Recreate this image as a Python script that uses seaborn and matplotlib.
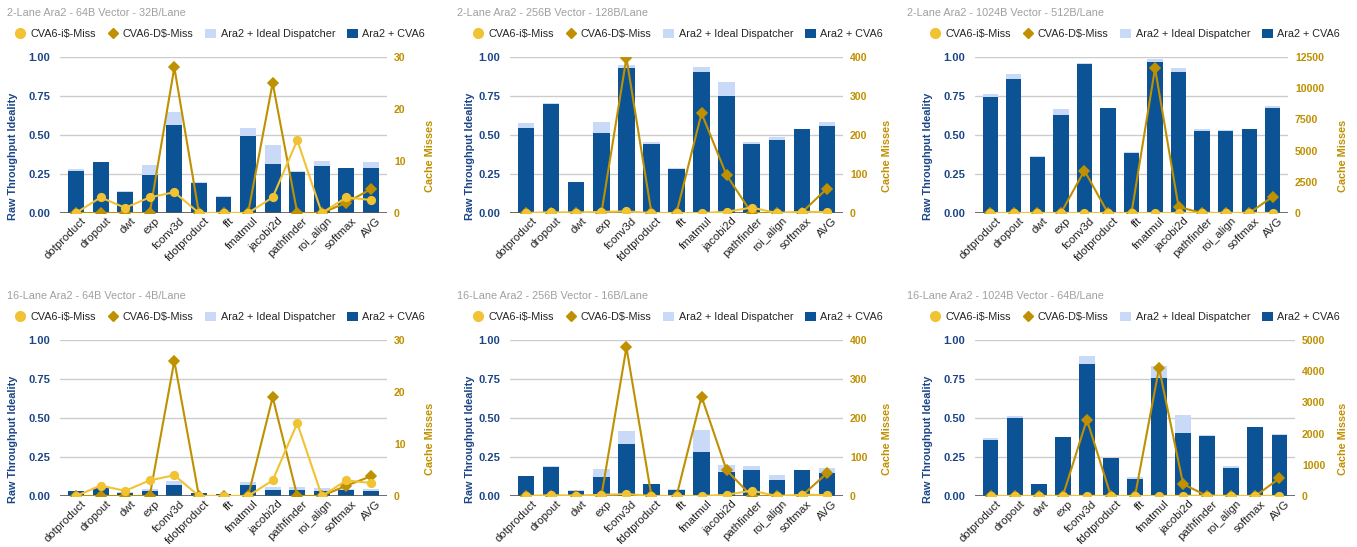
import numpy as np
import matplotlib
matplotlib.use("Agg")
import matplotlib.pyplot as plt
from matplotlib.lines import Line2D
from matplotlib.patches import Patch
from matplotlib.transforms import ScaledTranslation
import seaborn as sns

# benchmark names (x axis)
kernels = ['dotproduct', 'dropout', 'dwt', 'exp', 'fconv3d', 'fdotproduct', 'fft',
           'fmatmul', 'jacobi2d', 'pathfinder', 'roi_align', 'softmax', 'AVG']

titles = ['2-Lane Ara2 - 64B Vector - 32B/Lane',
          '2-Lane Ara2 - 256B Vector - 128B/Lane',
          '2-Lane Ara2 - 1024B Vector - 512B/Lane',
          '16-Lane Ara2 - 64B Vector - 4B/Lane',
          '16-Lane Ara2 - 256B Vector - 16B/Lane',
          '16-Lane Ara2 - 1024B Vector - 64B/Lane']

# Ara2 + Ideal Dispatcher (light bars)
ideal_2l_64 = [0.285, 0.33, 0.14, 0.305, 0.645, 0.20, 0.11, 0.545, 0.435, 0.27, 0.335, 0.29, 0.325]
ideal_2l_256 = [0.58, 0.705, 0.20, 0.585, 0.95, 0.455, 0.29, 0.935, 0.84, 0.455, 0.49, 0.54, 0.585]
ideal_2l_1024 = [0.765, 0.89, 0.365, 0.665, 0.96, 0.675, 0.39, 0.985, 0.93, 0.54, 0.53, 0.54, 0.685]
ideal_16l_64 = [0.035, 0.055, 0.025, 0.042, 0.095, 0.022, 0.015, 0.09, 0.055, 0.055, 0.05, 0.045, 0.048]
ideal_16l_256 = [0.13, 0.19, 0.04, 0.17, 0.415, 0.08, 0.045, 0.425, 0.20, 0.195, 0.135, 0.165, 0.18]
ideal_16l_1024 = [0.375, 0.51, 0.075, 0.38, 0.90, 0.245, 0.12, 0.835, 0.52, 0.39, 0.195, 0.445, 0.395]

# Ara2 + CVA6 (dark bars)
cva6_2l_64 = [0.27, 0.325, 0.135, 0.245, 0.565, 0.19, 0.10, 0.495, 0.315, 0.26, 0.30, 0.29, 0.29]
cva6_2l_256 = [0.545, 0.70, 0.20, 0.51, 0.93, 0.445, 0.28, 0.905, 0.75, 0.445, 0.47, 0.54, 0.56]
cva6_2l_1024 = [0.745, 0.86, 0.36, 0.63, 0.955, 0.67, 0.385, 0.965, 0.905, 0.525, 0.525, 0.54, 0.675]
cva6_16l_64 = [0.035, 0.05, 0.022, 0.032, 0.07, 0.022, 0.015, 0.07, 0.04, 0.04, 0.03, 0.04, 0.035]
cva6_16l_256 = [0.13, 0.185, 0.035, 0.125, 0.335, 0.075, 0.04, 0.285, 0.155, 0.165, 0.10, 0.165, 0.15]
cva6_16l_1024 = [0.36, 0.50, 0.075, 0.38, 0.845, 0.245, 0.11, 0.755, 0.405, 0.385, 0.18, 0.445, 0.39]

# CVA6 I$ misses
imiss_2l_64 = [0, 3, 1, 3, 4, 0, 0, 0, 3, 14, 0, 3, 2.5]
imiss_2l_256 = [0, 2, 1, 3, 4, 0, 0, 0, 3, 14, 0, 3, 2.5]
imiss_2l_1024 = [0, 2, 1, 3, 4, 0, 0, 0, 3, 14, 0, 3, 2.5]
imiss_16l_64 = [0, 2, 1, 3, 4, 0, 0, 0, 3, 14, 0, 3, 2.5]
imiss_16l_256 = [0, 2, 1, 3, 5, 0, 0, 0, 3, 14, 0, 3, 2.5]
imiss_16l_1024 = [0, 2, 1, 3, 4, 0, 0, 0, 3, 14, 0, 3, 2.5]

# CVA6 D$ misses
dmiss_2l_64 = [0, 0, 0, 0, 28, 0, 0, 0, 25, 0, 0, 2, 4.6]
dmiss_2l_256 = [0, 0, 0, 0, 398, 0, 0, 256, 97, 0, 0, 1, 62]
dmiss_2l_1024 = [0, 0, 0, 0, 3400, 0, 0, 11600, 480, 0, 0, 0, 1300]
dmiss_16l_64 = [0, 0, 0, 0, 26, 0, 0, 0, 19, 0, 0, 2, 3.8]
dmiss_16l_256 = [0, 0, 0, 0, 381, 0, 0, 255, 66, 0, 0, 0, 58]
dmiss_16l_1024 = [0, 0, 0, 0, 2450, 0, 0, 4100, 383, 0, 0, 0, 564]

miss_max = [30, 400, 12500, 30, 400, 5000]
miss_ticks = [[0, 10, 20, 30], [0, 100, 200, 300, 400],
              [0, 2500, 5000, 7500, 10000, 12500],
              [0, 10, 20, 30], [0, 100, 200, 300, 400],
              [0, 1000, 2000, 3000, 4000, 5000]]

ideal_all = [ideal_2l_64, ideal_2l_256, ideal_2l_1024, ideal_16l_64, ideal_16l_256, ideal_16l_1024]
cva6_all = [cva6_2l_64, cva6_2l_256, cva6_2l_1024, cva6_16l_64, cva6_16l_256, cva6_16l_1024]
imiss_all = [imiss_2l_64, imiss_2l_256, imiss_2l_1024, imiss_16l_64, imiss_16l_256, imiss_16l_1024]
dmiss_all = [dmiss_2l_64, dmiss_2l_256, dmiss_2l_1024, dmiss_16l_64, dmiss_16l_256, dmiss_16l_1024]

# colours
LIGHT = '#c9daf8'
DARK = '#0b5394'
YEL = '#f1c232'
GOLD = '#bf9000'
NAVY = '#1c4587'

sns.set_style('white')
plt.rcParams['font.family'] = ['Liberation Sans', 'DejaVu Sans']

W, H = 1357, 547
fig = plt.figure(figsize=(W / 100, H / 100), dpi=100)

# layout in pixels: (panel x origin, axes left, axes right, panel y origin, axes top, axes bottom,
#                    left label right edge, right label left edge)
layout = [
    (0, 60, 387, 0, 57, 213, 18, 425),
    (450, 510, 843, 0, 57, 213, 475, 882),
    (900, 975, 1288, 0, 57, 213, 933, 1338),
    (0, 60, 387, 283, 340, 496, 18, 425),
    (450, 510, 843, 283, 340, 496, 475, 882),
    (900, 975, 1295, 283, 340, 496, 933, 1338),
]
legend_cx = [220, 228, 235, 220, 228, 235]
label_shift = ScaledTranslation(5 / 100, 0, fig.dpi_scale_trans)

for i in range(6):
    px, x0, x1, py, yt, yb, lx, rx = layout[i]
    ax = fig.add_axes([x0 / W, 1 - yb / H, (x1 - x0) / W, (yb - yt) / H])

    sns.barplot(x=kernels, y=ideal_all[i], ax=ax, color=LIGHT, saturation=1,
                width=0.65, linewidth=0, zorder=2)
    sns.barplot(x=kernels, y=cva6_all[i], ax=ax, color=DARK, saturation=1,
                width=0.65, linewidth=0, zorder=3)
    ax.set_ylim(0, 1)
    ax.set_yticks([0, 0.25, 0.5, 0.75, 1.0])
    ax.set_yticklabels(['0.00', '0.25', '0.50', '0.75', '1.00'])
    ax.yaxis.grid(True, color='#cccccc', lw=1, zorder=0)
    ax.set_axisbelow(True)
    ax.axhline(0, color='#555555', lw=1.2, zorder=4)
    for s in ax.spines.values():
        s.set_visible(False)
    ax.tick_params(axis='y', length=0, pad=7, labelsize=8, labelcolor=NAVY)
    for t in ax.get_yticklabels():
        t.set_fontweight('bold')
    ax.tick_params(axis='x', length=0, pad=2, labelsize=8.2, labelcolor='#222222')
    for t in ax.get_xticklabels():
        t.set_rotation(45)
        t.set_ha('right')
        t.set_va('top')
        t.set_rotation_mode('anchor')
        t.set_transform(t.get_transform() + label_shift)
    ax.set_xlabel('')
    ax.set_ylabel('Raw Throughput Ideality', fontsize=7.8, fontweight='bold', color=NAVY)
    ax.yaxis.set_label_coords((lx - x0) / (x1 - x0), 0.365)

    ax2 = ax.twinx()
    sns.pointplot(x=kernels, y=dmiss_all[i], ax=ax2, color=GOLD, marker='D',
                  markersize=5.5, linewidth=1.5, errorbar=None)
    sns.pointplot(x=kernels, y=imiss_all[i], ax=ax2, color=YEL, marker='o',
                  markersize=5.5, linewidth=1.5, errorbar=None)
    ax2.set_ylim(0, miss_max[i])
    ax2.set_yticks(miss_ticks[i])
    ax2.set_yticklabels([str(v) for v in miss_ticks[i]])
    ax2.yaxis.tick_right()
    ax2.tick_params(axis='y', length=0, pad=5, labelsize=7.6, labelcolor=GOLD)
    for t in ax2.get_yticklabels():
        t.set_fontweight('bold')
    for s in ax2.spines.values():
        s.set_visible(False)
    ax2.grid(False)
    ax2.set_ylabel('Cache Misses', fontsize=7.8, fontweight='bold', color=GOLD)
    ax2.yaxis.set_label_position('right')
    ax2.yaxis.set_label_coords((rx - x0) / (x1 - x0), 0.365)
    ax2.set_xlabel('')
    ax.set_xlim(-0.65, 12.65)
    ax2.set_xlim(-0.65, 12.65)

    fig.text((px + 7) / W, 1 - (py + 13) / H, titles[i], fontsize=7.8,
             color='#a0a0a0', ha='left', va='center')

    handles = [
        Line2D([], [], color=YEL, marker='o', ls='none', markersize=7),
        Line2D([], [], color=GOLD, marker='D', ls='none', markersize=5.5),
        Patch(facecolor=LIGHT, edgecolor='none'),
        Patch(facecolor=DARK, edgecolor='none'),
    ]
    labels = ['CVA6-i$-Miss', 'CVA6-D$-Miss', 'Ara2 + Ideal Dispatcher', 'Ara2 + CVA6']
    fig.legend(handles, labels, loc='center',
               bbox_to_anchor=((px + legend_cx[i]) / W, 1 - (py + 34) / H),
               ncol=4, frameon=False, fontsize=7.8, handlelength=1.0,
               handleheight=1.0, handletextpad=0.4, columnspacing=1.1,
               borderaxespad=0, borderpad=0)

fig.savefig('out.png', dpi=100)
